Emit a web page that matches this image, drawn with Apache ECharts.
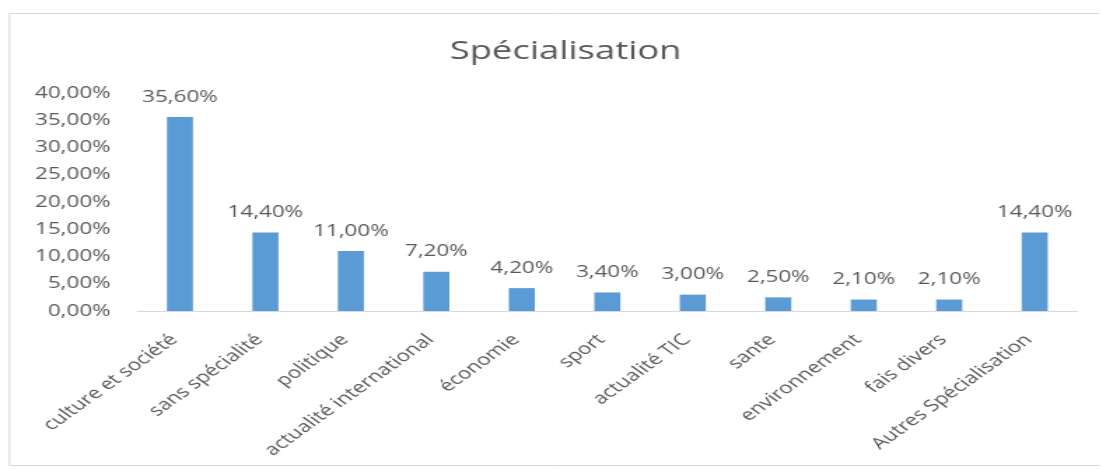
<!DOCTYPE html>
<html>
<head>
<meta charset="utf-8">
<script src="https://cdn.jsdelivr.net/npm/echarts@6/dist/echarts.min.js"></script>
<style>
  html, body { margin: 0; padding: 0; background: #ffffff; overflow: hidden; }
  body { width: 1101px; height: 469px; position: relative; }
  /* the chart is laid out at a narrower width and widened horizontally */
  #chart {
    position: absolute; left: 0; top: 0; width: 786.4px; height: 469px;
    transform: scaleX(1.4); transform-origin: 0 0;
  }
</style>
</head>
<body>
<div id="chart"></div>
<script>
const chartTitle = 'Spécialisation';
const categories = [
  'culture et société', 'sans spécialité', 'politique', 'actualité international',
  'économie', 'sport', 'actualité TIC', 'sante', 'environnement', 'fais divers',
  'Autres Spécialisation'
];
const shares = [35.6, 14.4, 11.0, 7.2, 4.2, 3.4, 3.0, 2.5, 2.1, 2.1, 14.4];
const yMin = 0, yMax = 40, yStep = 5;

const pct = v => v.toFixed(2).replace('.', ',') + '%';
const FONT = '"Open Sans", "Noto Sans", sans-serif';
const GREY = '#595959';
const FRAME = '#d9d9d9';

const chart = echarts.init(document.getElementById('chart'), null, { renderer: 'canvas' });
chart.setOption({
  animation: false,
  backgroundColor: '#ffffff',
  title: {
    text: chartTitle,
    left: 399, top: 34, textAlign: 'center',
    textStyle: { fontFamily: FONT, fontSize: 26, fontWeight: 'normal', color: GREY }
  },
  // chart-area outline (open on the right)
  graphic: [
    { type: 'polyline', silent: true,
      shape: { points: [[800, 13.5], [6.8, 13.5], [6.8, 465.5], [800, 465.5]] },
      style: { stroke: FRAME, lineWidth: 1, fill: null } }
  ],
  grid: { left: 98, right: 16.4, top: 93, bottom: 158 },
  xAxis: {
    type: 'category',
    data: categories,
    axisLine: { lineStyle: { color: FRAME, width: 1 } },
    axisTick: { show: false },
    axisLabel: {
      interval: 0, rotate: 45, margin: 22, padding: [0, 6, 0, 0],
      fontFamily: FONT, fontSize: 16, color: GREY
    }
  },
  yAxis: {
    type: 'value',
    min: yMin, max: yMax, interval: yStep,
    axisLine: { show: false },
    axisTick: { show: false },
    splitLine: { show: false },
    axisLabel: {
      margin: 19, fontFamily: FONT, fontSize: 16, color: GREY,
      formatter: v => pct(v)
    }
  },
  series: [{
    type: 'bar',
    data: shares,
    barWidth: 18.6,
    itemStyle: { color: '#5b9bd5' },
    label: {
      show: true, position: 'top', distance: 12,
      fontFamily: FONT, fontSize: 16, color: GREY,
      formatter: p => pct(p.value)
    }
  }]
});
</script>
</body>
</html>
